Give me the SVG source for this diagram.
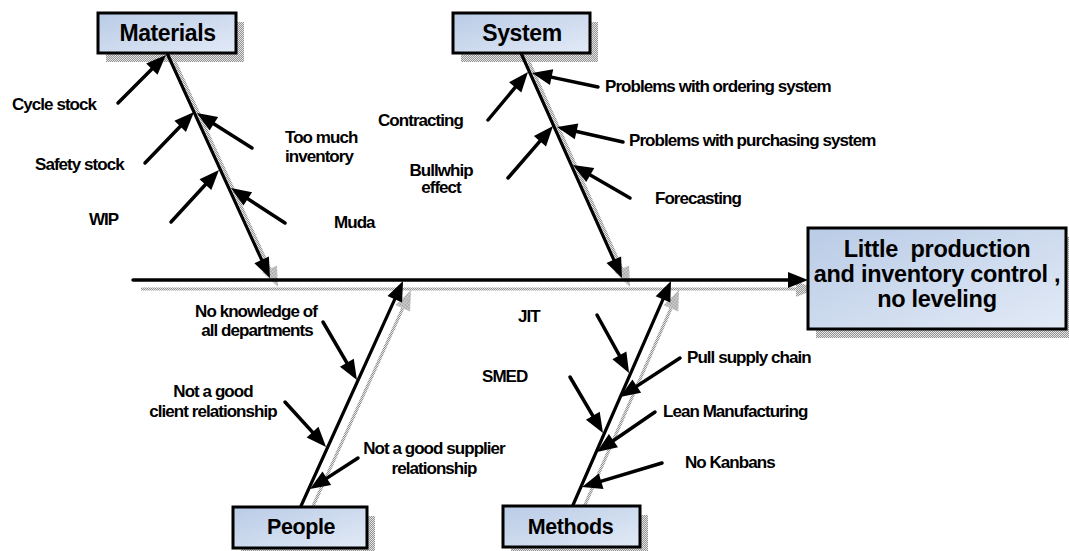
<svg xmlns="http://www.w3.org/2000/svg" width="1069" height="551" viewBox="0 0 1069 551">
  <defs>
    <style>
      .lbl{font-family:"Liberation Sans",Arial,Helvetica,sans-serif;font-weight:bold;font-size:17px;letter-spacing:-0.95px;fill:#000}
      .mid{text-anchor:middle}
      .cat{font-family:"Liberation Sans",Arial,Helvetica,sans-serif;font-weight:bold;font-size:23px;letter-spacing:-0.4px;text-anchor:middle;fill:#000}
      .cat.low{font-size:21.5px}
      .res{font-family:"Liberation Sans",Arial,Helvetica,sans-serif;font-weight:bold;font-size:23.5px;letter-spacing:-0.3px;text-anchor:middle;fill:#000}
      .box{fill:url(#boxfill);stroke:#000;stroke-width:3}
      .shbox{fill:url(#shade)}
      .spine{stroke:#000;stroke-width:3.5;stroke-linecap:round;fill:none;marker-end:url(#ah)}
      .bone{stroke:#000;stroke-width:3.2;stroke-linecap:round;fill:none;marker-end:url(#ah)}
      .twig{stroke:#000;stroke-width:3.5;stroke-linecap:round;fill:none;marker-end:url(#ah)}
      .shline{stroke:url(#shade);stroke-width:3.2;fill:none;marker-end:url(#ahs)}
    </style>
    <pattern id="shade" width="2" height="2" patternUnits="userSpaceOnUse">
      <rect width="2" height="2" fill="#e4e4e4"/>
      <rect width="1" height="1" fill="#949494"/>
      <rect x="1" y="1" width="1" height="1" fill="#949494"/>
    </pattern>
    <linearGradient id="boxfill" x1="0" y1="0" x2="1" y2="1">
      <stop offset="0" stop-color="#b9cbe6"/>
      <stop offset="1" stop-color="#e2eaf6"/>
    </linearGradient>
    <marker id="ah" markerUnits="userSpaceOnUse" markerWidth="20" markerHeight="16" viewBox="0 0 20 16" refX="10" refY="8" orient="auto" overflow="visible">
      <path d="M0,0 L20,8 L0,16 z" fill="#000"/>
    </marker>
    <marker id="ahs" markerUnits="userSpaceOnUse" markerWidth="20" markerHeight="16" viewBox="0 0 20 16" refX="10" refY="8" orient="auto" overflow="visible">
      <path d="M0,0 L20,8 L0,16 z" fill="url(#shade)"/>
    </marker>
  </defs>

  <rect width="1069" height="551" fill="#fff"/>

  <!-- drop shadows of spine, bones and boxes -->
  <g id="shadows" transform="translate(8,9)">
    <rect class="shbox" x="98" y="13" width="138" height="40"/>
    <rect class="shbox" x="453" y="13" width="137" height="40"/>
    <rect class="shbox" x="233" y="507" width="134" height="41"/>
    <rect class="shbox" x="503" y="506" width="137" height="41"/>
    <rect class="shbox" x="808" y="228" width="258" height="101"/>
    <line class="shline" x1="133" y1="280" x2="798" y2="280"/>
    <line class="shline" x1="167" y1="53" x2="265.8" y2="268.9"/>
    <line class="shline" x1="521" y1="53" x2="617.9" y2="268.9"/>
    <line class="shline" x1="301" y1="506" x2="398.9" y2="290.1"/>
    <line class="shline" x1="573" y1="505" x2="667" y2="290.2"/>
  </g>

  <!-- connectors -->
  <g id="connectors">
    <line class="spine" x1="133" y1="280" x2="798" y2="280"/>
    <line class="bone" x1="167" y1="53" x2="265.8" y2="268.9"/>
    <line class="bone" x1="521" y1="53" x2="617.9" y2="268.9"/>
    <line class="bone" x1="301" y1="506" x2="398.9" y2="290.1"/>
    <line class="bone" x1="573" y1="505" x2="667" y2="290.2"/>

    <!-- materials causes -->
    <line class="twig" x1="118" y1="103" x2="158.9" y2="62.1"/>
    <line class="twig" x1="145" y1="163" x2="187.1" y2="119.2"/>
    <line class="twig" x1="252" y1="148" x2="205.4" y2="118.4"/>
    <line class="twig" x1="171" y1="222" x2="212.2" y2="177.3"/>
    <line class="twig" x1="285" y1="223" x2="239.4" y2="193.4"/>

    <!-- system causes -->
    <line class="twig" x1="488" y1="120" x2="521.6" y2="79.7"/>
    <line class="twig" x1="598" y1="87" x2="541.8" y2="75.1"/>
    <line class="twig" x1="508" y1="178" x2="546.5" y2="133.6"/>
    <line class="twig" x1="623" y1="142" x2="566.8" y2="129.2"/>
    <line class="twig" x1="630" y1="198" x2="581.6" y2="170"/>

    <!-- people causes -->
    <line class="twig" x1="323" y1="322" x2="351.9" y2="371.4"/>
    <line class="twig" x1="285" y1="402" x2="319.3" y2="439.6"/>
    <line class="twig" x1="358" y1="458" x2="318.4" y2="483.6"/>

    <!-- methods causes -->
    <line class="twig" x1="597" y1="315" x2="624.2" y2="364.2"/>
    <line class="twig" x1="680" y1="358" x2="628.4" y2="391.6"/>
    <line class="twig" x1="570" y1="377" x2="597.9" y2="424.4"/>
    <line class="twig" x1="655" y1="412" x2="605.2" y2="446.3"/>
    <line class="twig" x1="662" y1="463" x2="591.6" y2="484.1"/>
  </g>

  <!-- category boxes -->
  <g id="materials">
    <rect class="box" x="98" y="13" width="138" height="40"/>
    <text class="cat" x="167.5" y="41">Materials</text>
  </g>
  <g id="system">
    <rect class="box" x="453" y="13" width="137" height="40"/>
    <text class="cat" x="522" y="41">System</text>
  </g>
  <g id="people">
    <rect class="box" x="233" y="507" width="134" height="41"/>
    <text class="cat low" x="301" y="534">People</text>
  </g>
  <g id="methods">
    <rect class="box" x="503" y="506" width="137" height="41"/>
    <text class="cat low" x="570.5" y="534">Methods</text>
  </g>

  <!-- effect box -->
  <g id="effect">
    <rect class="box" x="808" y="228" width="258" height="101"/>
    <text class="res" x="937" y="257" xml:space="preserve">Little  production</text>
    <text class="res" x="937" y="282">and inventory control ,</text>
    <text class="res" x="937" y="307">no leveling</text>
  </g>

  <!-- cause labels -->
  <g id="labels-materials">
    <text class="lbl" x="12" y="110">Cycle stock</text>
    <text class="lbl" x="35" y="170">Safety stock</text>
    <text class="lbl" x="89" y="225">WIP</text>
    <text class="lbl" x="285" y="143">Too much</text>
    <text class="lbl" x="285" y="162">inventory</text>
    <text class="lbl" x="334" y="228">Muda</text>
  </g>
  <g id="labels-system">
    <text class="lbl" x="378" y="126">Contracting</text>
    <text class="lbl mid" x="441" y="176">Bullwhip</text>
    <text class="lbl mid" x="441" y="193">effect</text>
    <text class="lbl" x="605" y="92">Problems with ordering system</text>
    <text class="lbl" x="629" y="146">Problems with purchasing system</text>
    <text class="lbl" x="655" y="204">Forecasting</text>
  </g>
  <g id="labels-people">
    <text class="lbl mid" x="256" y="317">No knowledge of</text>
    <text class="lbl mid" x="257" y="336">all departments</text>
    <text class="lbl mid" x="213" y="397">Not a good</text>
    <text class="lbl mid" x="213" y="417">client relationship</text>
    <text class="lbl mid" x="434" y="454">Not a good supplier</text>
    <text class="lbl mid" x="434" y="474">relationship</text>
  </g>
  <g id="labels-methods">
    <text class="lbl" x="518" y="322">JIT</text>
    <text class="lbl" x="482" y="382">SMED</text>
    <text class="lbl" x="687" y="363">Pull supply chain</text>
    <text class="lbl" x="663" y="417">Lean Manufacturing</text>
    <text class="lbl" x="685" y="468">No Kanbans</text>
  </g>
</svg>
